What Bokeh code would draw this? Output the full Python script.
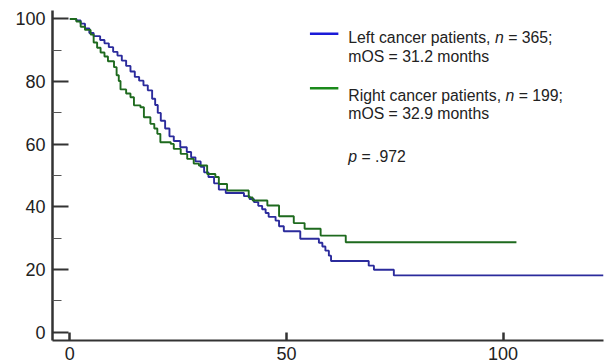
from bokeh.plotting import figure
from bokeh.models import Range1d, FixedTicker, Label, BoxAnnotation
from bokeh.embed import file_html
from bokeh.resources import INLINE

# Left-sided cancer patients (months, survival %)
left_t = [0, 1.5, 2.5, 3.5, 4.5, 5.5, 7, 8, 9, 10, 11, 12, 13, 14, 15, 16, 17, 18, 19, 19.7,
          20.3, 21, 22, 23, 24, 25.5, 27, 28, 29, 30.2, 31, 32, 33.3, 34.4, 36, 40.2, 41.5, 42.5, 43.5, 44.4,
          45.2, 45.9, 47.5, 48.3, 49.4, 53.2, 57.5, 58.3, 59, 59.8, 60.3, 69, 70.2, 74.8, 123.2]
left_s = [100, 99.5, 98.5, 97, 95.5, 94.5, 93.3, 92.2, 91, 89.5, 88.3, 86.7, 85, 83.2, 81.5, 80.3, 78.8, 77.2, 74.5, 72.5,
          70, 67.5, 65, 62.5, 61, 59, 57.5, 55.8, 54.5, 52.8, 51, 49.5, 47.5, 45.5, 44.4, 43.4, 42.5, 41.5, 40.3, 39.2,
          38, 36.8, 35.6, 33.8, 32.2, 29.8, 28.5, 27.3, 26, 24.4, 22.7, 21.2, 19.9, 18.1, 18.1]

# Right-sided cancer patients
right_t = [0, 1.5, 2.5, 3.5, 4.8, 5.5, 6.3, 7.1, 8, 8.8, 10.2, 10.8, 11.3, 11.7, 13, 14, 14.8, 16.3, 17.1, 18.6,
           19.5, 20.2, 20.9, 23.3, 24, 25.6, 27.1, 28.6, 29.8, 31.7, 33.6, 34.4, 36.3, 41.3, 42.2, 45.6, 48.3, 51.7, 54.2, 57.9,
           63.7, 103.1]
right_s = [100, 99.2, 97.5, 96.5, 95, 92.5, 90.8, 89.3, 88, 86.5, 84.6, 82, 80.2, 77.5, 76.2, 75, 72.4, 71.8, 68.6, 66.5,
           65, 63.3, 60.6, 60.1, 58.5, 56.9, 55.3, 53.8, 53.2, 50.5, 49.5, 47.3, 45.2, 43, 42, 40.4, 37, 34.8, 33, 30.8,
           28.7, 28.7]

x_ticks = [0, 50, 100]
y_ticks = [0, 20, 40, 60, 80, 100]
y_minor = [10, 30, 50, 70, 90]

FONT = "Liberation Sans"
AX = "#333333"

p = figure(width=605, height=367, output_backend="svg", toolbar_location=None,
           x_range=Range1d(-4.0, 123.2), y_range=Range1d(-2.7, 102.7),
           min_border_left=52, min_border_right=2, min_border_top=10, min_border_bottom=27)
p.outline_line_color = None
p.grid.visible = False
p.background_fill_color = "white"

p.step(left_t, left_s, mode="after", line_color="#2b2b9c", line_width=1.9)
p.step(right_t, right_s, mode="after", line_color="#1e6a1e", line_width=1.9)

xa = p.xaxis[0]
xa.ticker = FixedTicker(ticks=x_ticks, minor_ticks=[])
xa.axis_line_color = AX
xa.axis_line_width = 2
xa.major_tick_in = 8
xa.major_tick_out = 0
xa.major_tick_line_width = 2.5
xa.major_tick_line_color = AX
xa.minor_tick_line_color = None
xa.major_label_standoff = 6
xa.major_label_text_font = FONT
xa.major_label_text_font_size = "18px"
xa.major_label_text_color = "#222222"

ya = p.yaxis[0]
ya.ticker = FixedTicker(ticks=y_ticks, minor_ticks=y_minor)
ya.axis_line_color = AX
ya.axis_line_width = 2.5
ya.major_tick_in = 16
ya.major_tick_out = 0
ya.major_tick_line_width = 2
ya.major_tick_line_color = AX
ya.minor_tick_in = 9
ya.minor_tick_out = 0
ya.minor_tick_line_width = 1.2
ya.minor_tick_line_color = "#555555"
ya.major_label_standoff = 7
ya.major_label_text_font = FONT
ya.major_label_text_font_size = "18px"
ya.major_label_text_color = "#222222"

# legend swatches
p.add_layout(BoxAnnotation(left=55.43, right=61.99, bottom=94.87, top=95.67,
                           fill_color="#1a1ad8", fill_alpha=1, line_color=None))
p.add_layout(BoxAnnotation(left=55.43, right=61.99, bottom=77.49, top=78.29,
                           fill_color="#1a8a1a", fill_alpha=1, line_color=None))

FS = "15.8px"
LX = 64.27


def lab(text, y, off=0, italic=False):
    p.add_layout(Label(x=LX, y=y, x_offset=off, text=text, text_font=FONT, text_font_size=FS,
                       text_color="#222222", text_baseline="alphabetic", text_align="left",
                       text_font_style="italic" if italic else "normal"))


lab("Left cancer patients,", 93.96)
lab("n", 93.96, 146.7, True)
lab("= 365;", 93.96, 159.9)
lab("mOS = 31.2 months", 88.15)
lab("Right cancer patients,", 75.53)
lab("n", 75.53, 157.2, True)
lab("= 199;", 75.53, 170.4)
lab("mOS = 32.9 months", 69.79)
lab("p", 56.05, 0, True)
lab("= .972", 56.05, 13.2)

open("out.html", "w").write(file_html(p, INLINE))
